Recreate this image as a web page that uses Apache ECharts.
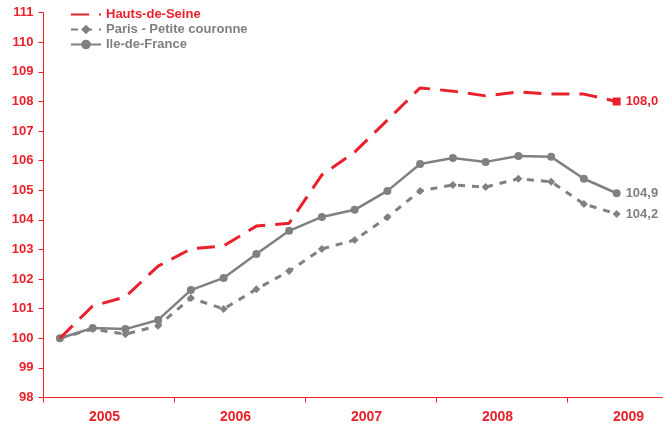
<!DOCTYPE html>
<html>
<head>
<meta charset="utf-8">
<script src="https://cdn.jsdelivr.net/npm/echarts@6/dist/echarts.min.js"></script>
<style>html,body{margin:0;padding:0;background:#fff;overflow:hidden;width:663px;height:428px;}#c{width:700px;height:428px;}</style>
</head>
<body>
<div id="c"></div>
<script>
var quarters = ['2005T1','2005T2','2005T3','2005T4','2006T1','2006T2','2006T3','2006T4','2007T1','2007T2','2007T3','2007T4','2008T1','2008T2','2008T3','2008T4','2009T1','2009T2','2009T3','2009T4'];
var years = ['2005','2006','2007','2008','2009'];
var hautsDeSeine = [100.0,101.09,101.4,102.44,103.02,103.12,103.79,103.89,105.52,106.29,107.37,108.46,108.35,108.19,108.32,108.25,108.25,108.0];
var parisPC = [100.0,100.31,100.14,100.42,101.36,100.99,101.66,102.27,103.02,103.32,104.09,104.98,105.18,105.11,105.39,105.29,104.54,104.2];
var ileDeFrance = [100.0,100.35,100.31,100.62,101.63,102.04,102.85,103.63,104.10,104.34,104.98,105.89,106.09,105.96,106.16,106.13,105.39,104.9];
var yTicks = {min:98, max:111, interval:1};

var RED = '#e8212b', GRAY = '#808080';
var FONT = '"Liberation Sans", Arial, sans-serif';

function withEndLabel(arr, color, extra) {
  return arr.map(function (v, i) {
    if (i === arr.length - 1) {
      var o = {value: v, label: {show: true, position: 'right', distance: 5, color: color,
        fontFamily: FONT, fontWeight: 'bold', fontSize: 13,
        formatter: function (p) { return p.value.toFixed(1).replace('.', ','); }}};
      if (extra) { for (var k in extra) o[k] = extra[k]; }
      return o;
    }
    return v;
  });
}

var chart = echarts.init(document.getElementById('c'));
chart.setOption({
  animation: false,
  backgroundColor: '#fff',
  grid: {left: 43.5, top: 12.7, bottom: 30.5, right: 1.5, containLabel: false},
  legend: {
    orient: 'vertical', left: 65, top: 3, itemWidth: 30, itemHeight: 12, itemGap: 2,
    textStyle: {fontFamily: FONT, fontWeight: 'bold', fontSize: 13, color: GRAY},
    data: [
      {name: 'Hauts-de-Seine', textStyle: {color: RED}, itemStyle: {opacity: 0}},
      {name: 'Paris - Petite couronne', textStyle: {color: GRAY}},
      {name: 'Ile-de-France', textStyle: {color: GRAY}}
    ]
  },
  xAxis: [
    {type: 'category', data: quarters, boundaryGap: true, show: false, gridIndex: 0},
    {type: 'category', data: years, boundaryGap: true, position: 'bottom', gridIndex: 0,
     axisLine: {lineStyle: {color: RED, width: 1}},
     axisTick: {show: true, length: 5, lineStyle: {color: RED}},
     axisLabel: {color: RED, fontFamily: FONT, fontWeight: 'bold', fontSize: 14, margin: 13, padding: [0, 9, 0, 0]},
     splitLine: {show: false}}
  ],
  yAxis: {
    type: 'value', min: yTicks.min, max: yTicks.max, interval: yTicks.interval,
    axisLine: {show: true, lineStyle: {color: RED, width: 1}},
    axisTick: {show: true, length: 5, lineStyle: {color: RED}},
    axisLabel: {color: RED, fontFamily: FONT, fontWeight: 'bold', fontSize: 13, margin: 10},
    splitLine: {show: false}
  },
  series: [
    {name: 'Hauts-de-Seine', type: 'line', xAxisIndex: 0, symbol: 'none', showSymbol: true,
     data: withEndLabel(hautsDeSeine, RED, {symbol: 'rect', symbolSize: 8, itemStyle: {color: RED}}),
     lineStyle: {color: RED, width: 3, type: [18, 10]}, itemStyle: {color: RED}, z: 3},
    {name: 'Paris - Petite couronne', type: 'line', xAxisIndex: 0, symbol: 'diamond', symbolSize: 8,
     data: withEndLabel(parisPC, GRAY),
     lineStyle: {color: GRAY, width: 3, type: [7, 7]}, itemStyle: {color: GRAY}, z: 2},
    {name: 'Ile-de-France', type: 'line', xAxisIndex: 0, symbol: 'circle', symbolSize: 8,
     data: withEndLabel(ileDeFrance, GRAY),
     lineStyle: {color: GRAY, width: 2.5}, itemStyle: {color: GRAY}, z: 2}
  ]
});
</script>
</body>
</html>
